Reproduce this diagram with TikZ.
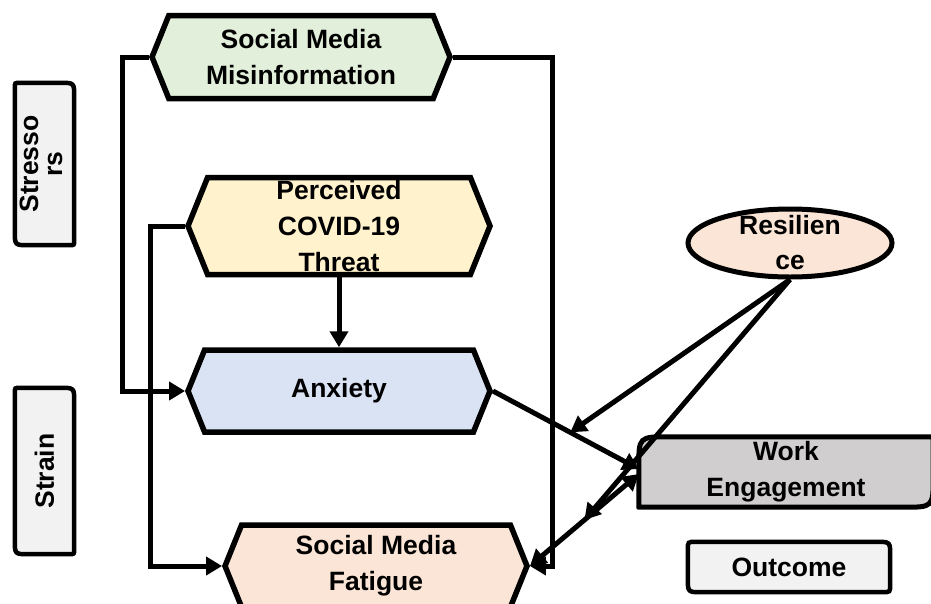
\documentclass[tikz,border=0pt]{standalone}
\usepackage{fontspec}
\setmainfont{Liberation Sans}
\usepackage{graphicx}
\usetikzlibrary{arrows.meta,shapes.symbols,shapes.geometric,calc,backgrounds}
\definecolor{misfill}{HTML}{E2EFDA}
\definecolor{threatfill}{HTML}{FFF2CC}
\definecolor{anxfill}{HTML}{DAE3F3}
\definecolor{peach}{HTML}{FBE5D6}
\definecolor{engfill}{HTML}{D0CECE}
\definecolor{tagfill}{HTML}{F2F2F2}
\tikzset{
  hexa/.style   = {shape=signal, signal from=nowhere, signal to=west and east,
                   signal pointer angle=136, draw=black, line width=5.5pt,
                   inner sep=0pt, align=center,
                   font=\bfseries\fontsize{26.5}{36}\selectfont},
  tag/.style    = {inner sep=0pt, align=center,
                   font=\bfseries\fontsize{26.5}{36}\selectfont},
  tagbox/.style = {draw=black, fill=tagfill, line width=4.5pt},
  engbox/.style = {draw=black, fill=engfill, line width=5pt},
  flow/.style   = {-{Triangle[length=16pt,width=18pt]}, line width=5pt},
  twoway/.style = {{Triangle[length=16pt,width=18pt]}-{Triangle[length=16pt,width=18pt]},
                   line width=5pt},
}
% outline of a node: #3 = radius top left / bottom right, #4 = radius top right / bottom left
\newcommand{\cornerbox}[4]{%
  \draw[#2] ($(#1.north west)+(#3,0)$) -- ($(#1.north east)+(-#4,0)$)
    .. controls (#1.north east) .. ($(#1.north east)+(0,#4)$)
    -- ($(#1.south east)+(0,-#3)$)
    .. controls (#1.south east) .. ($(#1.south east)+(-#3,0)$)
    -- ($(#1.south west)+(#4,0)$)
    .. controls (#1.south west) .. ($(#1.south west)+(0,-#4)$)
    -- ($(#1.north west)+(0,#3)$)
    .. controls (#1.north west) .. cycle;}

\begin{document}
\begin{tikzpicture}[x=1pt,y=-1pt]
  \useasboundingbox (0,0) rectangle (931,603);

  % stressors and strain
  \node[hexa,fill=misfill,minimum width=298pt,minimum height=83pt] (misinfo) at (301,57)
    {Social Media\\Misinformation};
  \node[hexa,fill=threatfill,minimum width=302pt,minimum height=97pt] (threat) at (339,226)
    {Perceived\\COVID-19\\Threat};
  \node[hexa,fill=anxfill,minimum width=302pt,minimum height=82pt] (anxiety) at (339,391)
    {Anxiety};
  \node[hexa,fill=peach,minimum width=302pt,minimum height=82pt] (fatigue) at (376,566)
    {Social Media\\Fatigue};

  % moderator and outcome
  \node[ellipse,draw=black,line width=5pt,fill=peach,minimum width=204pt,minimum height=68pt,
        inner xsep=0pt,inner ysep=-4pt,align=center,
        font=\bfseries\fontsize{26.5}{35}\selectfont] (resil) at (790,243) {Resilien\\ce};
  \node[tag,minimum width=294pt,minimum height=70pt] (engage) at (786,472) {Work\\Engagement};
  \node[tag,minimum width=202pt,minimum height=50pt] (outcome) at (789,567) {Outcome};

  % side labels
  \node[tag,minimum width=59pt,minimum height=162pt,font=\bfseries\fontsize{26.5}{24}\selectfont]
    (stress) at (44.5,164) {\rotatebox{90}{\begin{tabular}{@{}c@{}}Stresso\\rs\end{tabular}}};
  \node[tag,minimum width=59pt,minimum height=166pt] (strain) at (44.5,471)
    {\rotatebox{90}{Strain}};

  \begin{scope}[on background layer]
    \cornerbox{stress}{tagbox}{5}{14}
    \cornerbox{strain}{tagbox}{5}{14}
    \cornerbox{outcome}{tagbox}{8}{14}
    \cornerbox{engage}{engbox}{30}{0.1}
  \end{scope}

  \draw[flow] (misinfo.west) -- ++(-27,0) |- (anxiety.west);
  \draw[flow] (misinfo.east) -- ++(100,0) |- (fatigue.east);
  \draw[flow] (threat.west) -- ++(-35,0) |- (fatigue.west);
  \draw[flow] (threat.south) -- (anxiety.north);
  \draw[flow] (anxiety.east) -- ([yshift=3pt]engage.west);
  \draw[twoway] (fatigue.east) -- ([yshift=-2pt]engage.west);
  \draw[flow] (resil.south) -- ($(anxiety.east)!0.53!([yshift=3pt]engage.west)$);
  \draw[flow] (resil.south) -- ($(fatigue.east)!0.5!([yshift=-2pt]engage.west)$);
\end{tikzpicture}
\end{document}
